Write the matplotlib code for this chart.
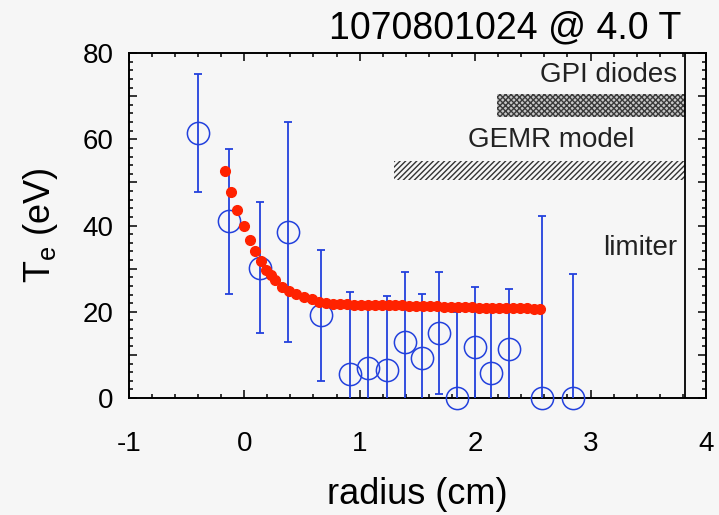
import matplotlib
matplotlib.use("Agg")
import matplotlib.pyplot as plt
from matplotlib.ticker import MultipleLocator, FuncFormatter

plt.rcParams['font.family'] = ['Liberation Sans', 'DejaVu Sans']
plt.rcParams['mathtext.fontset'] = 'custom'
plt.rcParams['mathtext.rm'] = 'Liberation Sans'
plt.rcParams['hatch.linewidth'] = 1.0

# measured Te (blue circles) with error bars
r_obs = [-0.40, -0.135, 0.134, 0.376, 0.664, 0.917, 1.071, 1.24, 1.39, 1.54,
         1.69, 1.84, 2.00, 2.14, 2.29, 2.58, 2.85]
t_obs = [61.5, 41.0, 30.2, 38.4, 19.2, 5.7, 6.9, 6.5, 12.9, 9.2,
         15.1, 0.0, 11.9, 5.9, 11.4, 0.0, 0.0]
t_err = [13.7, 16.8, 15.2, 25.5, 15.2, 18.9, 14.0, 17.2, 16.3, 15.0,
         14.1, 20.0, 13.9, 14.6, 14.0, 42.2, 28.7]

# model curve (red dots)
r_fit = [-0.167, -0.11, -0.058, -0.003, 0.05, 0.09, 0.145, 0.185, 0.23, 0.27,
         0.33, 0.39, 0.445, 0.52, 0.59, 0.65, 0.71, 0.77, 0.83, 0.89,
         0.95, 1.01, 1.07, 1.13, 1.19, 1.25, 1.31, 1.37, 1.43, 1.49,
         1.55, 1.61, 1.67, 1.73, 1.79, 1.85, 1.91, 1.97, 2.03, 2.09,
         2.15, 2.21, 2.27, 2.33, 2.39, 2.45, 2.51, 2.56]
t_fit = [52.6, 47.7, 43.7, 39.9, 36.6, 34.1, 31.7, 29.7, 28.5, 27.3,
         25.8, 24.9, 24.1, 23.5, 22.9, 22.3, 22.0, 21.9, 21.8, 21.8,
         21.7, 21.7, 21.6, 21.6, 21.6, 21.5, 21.5, 21.5, 21.4, 21.4,
         21.4, 21.3, 21.3, 21.2, 21.2, 21.2, 21.1, 21.1, 21.0, 21.0,
         21.0, 20.9, 20.9, 20.9, 20.8, 20.8, 20.7, 20.7]

limiter = 3.82
gpi_span = (2.19, 3.82, 65.2, 70.4)
gemr_span = (1.30, 3.82, 50.5, 55.0)

bg = '#f6f6f6'
blue = '#2341dd'
red = '#ff2200'

fig = plt.figure(figsize=(7.19, 5.15), dpi=100, facecolor=bg)
ax = fig.add_axes([0.179, 0.227, 0.803, 0.670])
ax.set_facecolor(bg)

ax.fill_between([gpi_span[0], gpi_span[1]], gpi_span[2], gpi_span[3],
                facecolor='#c8c8c8', edgecolor='#3a3a3a', hatch='xxxxxx', linewidth=0)
ax.fill_between([gemr_span[0], gemr_span[1]], gemr_span[2], gemr_span[3],
                facecolor='none', edgecolor='#333333', hatch='//////', linewidth=0)

ax.errorbar(r_obs, t_obs, yerr=t_err, fmt='none', ecolor=blue, elinewidth=1.3,
            capsize=3, capthick=1.3, zorder=3)
ax.plot(r_obs, t_obs, 'o', ms=16, mfc='none', mec=blue, mew=1.1, clip_on=False, zorder=4)
ax.plot(r_fit, t_fit, 'o', ms=7, color=red, mec=red, zorder=5)

ax.axvline(limiter, color='black', lw=1.3)

ax.text(3.75, 74.8, 'GPI diodes', ha='right', va='center', fontsize=20, color='#222222')
ax.text(3.38, 59.8, 'GEMR model', ha='right', va='center', fontsize=20, color='#222222')
ax.text(3.75, 34.8, 'limiter', ha='right', va='center', fontsize=20, color='#222222')

ax.set_xlim(-1, 4)
ax.set_ylim(0, 80)
ax.xaxis.set_major_locator(MultipleLocator(1))
ax.xaxis.set_minor_locator(MultipleLocator(0.2))
ax.yaxis.set_major_locator(MultipleLocator(10))
ax.yaxis.set_minor_locator(MultipleLocator(2))
ax.yaxis.set_major_formatter(FuncFormatter(lambda v, p: '%d' % v if int(round(v)) % 20 == 0 else ''))
ax.xaxis.set_major_formatter(FuncFormatter(lambda v, p: '%d' % v))
ax.tick_params(which='both', direction='in', top=True, right=True, width=1.1, labelsize=20)
ax.tick_params(axis='x', which='major', pad=24)
ax.tick_params(axis='y', which='major', pad=11)
ax.tick_params(which='major', length=6)
ax.tick_params(which='minor', length=3)
for s in ax.spines.values():
    s.set_linewidth(1.4)

ax.set_xlabel('radius (cm)', fontsize=26, labelpad=14)
ax.set_ylabel(r'T$_\mathrm{e}$ (eV)', fontsize=26, labelpad=16)

fig.text(0.948, 0.945, '1070801024 @ 4.0 T', ha='right', va='center', fontsize=27)

fig.savefig('out.png', dpi=100, facecolor=bg)
